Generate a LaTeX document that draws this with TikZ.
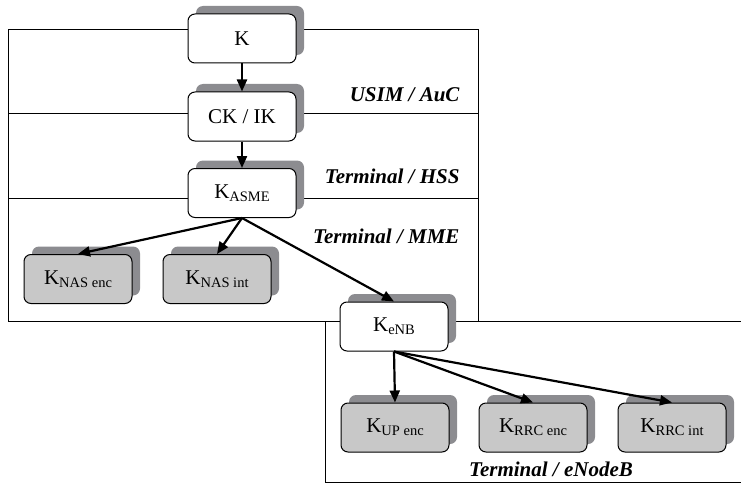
\documentclass[tikz,border=0pt]{standalone}
\usepackage{fontspec}
\setmainfont{Liberation Serif}
\usetikzlibrary{shadows,arrows.meta}
\definecolor{shgray}{RGB}{140,140,144}
\definecolor{boxgray}{RGB}{200,200,200}
\newcommand\sbs[1]{\raisebox{-0.3ex}{\fontsize{14.5}{15}\selectfont #1}}
\begin{document}
\begin{tikzpicture}[x=1pt,y=1pt,
 keybox/.style={draw=black, line width=1pt, rounded corners=7pt, minimum width=108pt, minimum height=49pt, fill=white, font=\fontsize{21}{23}\selectfont, general shadow={fill=shgray, draw=none, shadow xshift=8pt, shadow yshift=8pt}, inner sep=0pt},
 graybox/.style={keybox, fill=boxgray},
 arr/.style={-{Triangle[length=12pt,width=10pt]}, line width=2.2pt},
 frame/.style={line width=1pt},
 lab/.style={font=\fontsize{21}{23}\selectfont\bfseries\itshape}]
\useasboundingbox (0,0) rectangle (741,-484);
% frames
\draw[frame] (8,-30) rectangle (478,-321);
\draw[frame] (8,-114) -- (478,-114);
\draw[frame] (8,-198) -- (478,-198);
\draw[frame] (741,-321) -| (325,-482) -- (741,-482);
% boxes
\node[keybox] (k) at (242,-38.5) {K};
\node[keybox] (ck) at (242,-116.5) {CK / IK};
\node[keybox] (asme) at (242,-193) {K\sbs{ASME}};
\node[graybox] (nasenc) at (78,-279) {K\sbs{NAS enc}};
\node[graybox] (nasint) at (217,-279) {K\sbs{NAS int}};
\node[keybox] (enb) at (394,-326.5) {K\sbs{eNB}};
\node[graybox] (upenc) at (395,-427.5) {K\sbs{UP enc}};
\node[graybox] (rrcenc) at (533,-427.5) {K\sbs{RRC enc}};
\node[graybox] (rrcint) at (672,-427.5) {K\sbs{RRC int}};
% labels
\node[lab, anchor=east] (l1) at (463,-95) {USIM / AuC};
\node[lab, anchor=east] (l2) at (463,-176) {Terminal / HSS};
\node[lab, anchor=east] (l3) at (463,-236) {Terminal / MME};
\node[lab] (l4) at (551,-469) {Terminal / eNodeB};
% arrows
\draw[arr] (k.south) -- (ck.north);
\draw[arr] (ck.south) -- (asme.north);
\draw[arr] (asme.south) -- (nasenc.north);
\draw[arr] (asme.south) -- (nasint.north);
\draw[arr] (asme.south) -- (enb.north);
\draw[arr] (enb.south) -- (upenc.north);
\draw[arr] (enb.south) -- (rrcenc.north);
\draw[arr] (enb.south) -- (rrcint.north);
\end{tikzpicture}
\end{document}
